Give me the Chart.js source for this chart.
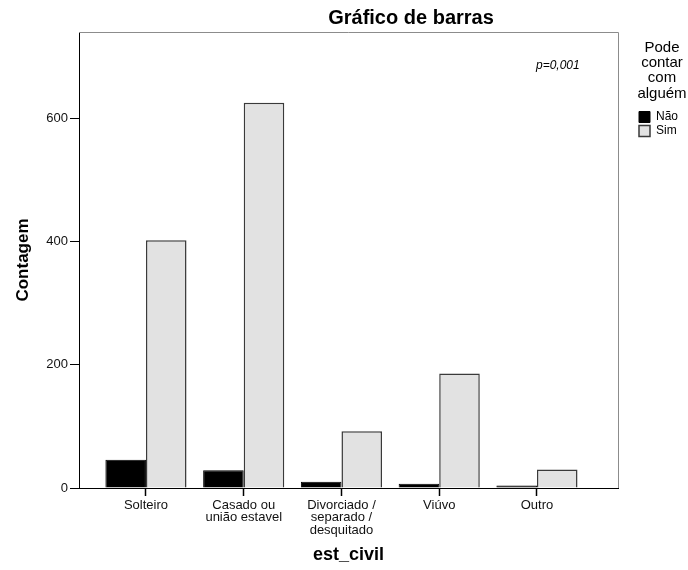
<!DOCTYPE html>
<html>
<head>
<meta charset="utf-8">
<script src="https://cdn.jsdelivr.net/npm/chart.js@4.4.1/dist/chart.umd.min.js"></script>
<style>
  body { margin: 0; background: #fff; }
</style>
</head>
<body>
<canvas id="barChart" width="688" height="570"></canvas>
<script>
// dados
const categorias = ["Solteiro", ["Casado ou", "união estavel"], ["Divorciado /", "separado /", "desquitado"], "Viúvo", "Outro"];
const valoresNao = [46, 29, 10, 7, 4];
const valoresSim = [402, 625, 92, 186, 30];
const ticksContagem = [0, 200, 400, 600];

const fonte = "'Liberation Sans', Arial, sans-serif";
Chart.defaults.font.family = fonte;
Chart.defaults.color = "#000";

// título e p-valor
const textosExtras = {
    id: "textosExtras",
    afterDraw(chart) {
        const ctx = chart.ctx;
        ctx.save();
        ctx.fillStyle = "#000";
        ctx.textBaseline = "middle";
        ctx.textAlign = "center";
        ctx.font = "bold 20px " + fonte;
        ctx.fillText("Gráfico de barras", 411, 18);
        ctx.textAlign = "left";
        ctx.font = "italic 12px " + fonte;
        ctx.fillText("p=0,001", 536, 66);
        ctx.restore();
    },
};

// moldura cinza em cima e à direita
const moldura = {
    id: "moldura",
    beforeDatasetsDraw(chart) {
        const { ctx, chartArea } = chart;
        ctx.save();
        ctx.strokeStyle = "#8c8c8c";
        ctx.lineWidth = 1;
        ctx.beginPath();
        ctx.moveTo(chartArea.left, chartArea.top + 0.5);
        ctx.lineTo(chartArea.right + 0.5, chartArea.top + 0.5);
        ctx.lineTo(chartArea.right + 0.5, chartArea.bottom);
        ctx.stroke();
        ctx.restore();
    },
};

// afasta a legenda da área do gráfico
const deslocaLegenda = {
    id: "deslocaLegenda",
    afterLayout(chart) {
        chart.legend.left += 19;
        chart.legend.right += 19;
    },
};

const ctxBarras = document.querySelector("#barChart").getContext("2d");

const objBarChart = new Chart(ctxBarras, {
    type: "bar",
    data: {
        datasets: [
            {
                label: "Não",
                data: valoresNao.map((v, i) => ({ x: i, y: v })),
                backgroundColor: "#000000",
                borderColor: "#000000",
                borderWidth: 1,
            },
            {
                label: "Sim",
                data: valoresSim.map((v, i) => ({ x: i, y: v })),
                backgroundColor: "#e2e2e2",
                borderColor: "#3a3a3a",
                borderWidth: 1.5,
            },
        ],
    },
    options: {
        responsive: false,
        animation: false,
        categoryPercentage: 0.83,
        barPercentage: 1,
        layout: { padding: { top: 32, right: 20, bottom: 0, left: 0 } },
        scales: {
            x: {
                type: "linear",
                offset: false,
                min: -0.685,
                max: 4.829,
                afterBuildTicks: (s) => {
                    s.ticks = categorias.map((c, i) => ({ value: i }));
                },
                afterFit: (s) => { s.height = 82; },
                ticks: {
                    autoSkip: false,
                    maxRotation: 0,
                    padding: 3,
                    color: "#111",
                    font: { size: 13, lineHeight: 0.96 },
                    callback: (v) => categorias[v],
                },
                grid: { offset: false, drawOnChartArea: false, drawTicks: true, tickLength: 8, tickWidth: 1.5, tickColor: "#000", color: "#000" },
                border: { color: "#000", width: 1 },
                title: {
                    display: true,
                    text: "est_civil",
                    font: { size: 18, weight: "bold" },
                    padding: { top: 4, bottom: 4 },
                },
            },
            y: {
                min: 0,
                max: 740,
                afterBuildTicks: (s) => {
                    s.ticks = ticksContagem.map((v) => ({ value: v }));
                },
                afterFit: (s) => { s.width = 79; },
                ticks: { padding: 2, color: "#111", font: { size: 13 } },
                grid: { drawOnChartArea: false, drawTicks: true, tickLength: 9, color: "#000" },
                border: { color: "#000", width: 1 },
                title: {
                    display: true,
                    text: "Contagem",
                    font: { size: 17, weight: "bold" },
                    padding: { top: 13, bottom: 4 },
                },
            },
        },
        plugins: {
            legend: {
                position: "right",
                align: "start",
                maxWidth: 50,
                title: {
                    display: true,
                    text: ["Pode", "contar", "com", "alguém"],
                    position: "center",
                    color: "#000",
                    font: { size: 15, lineHeight: 1.02 },
                    padding: { top: 8, bottom: 53.7 },
                },
                labels: {
                    boxWidth: 11,
                    boxHeight: 11,
                    padding: 2,
                    color: "#000",
                    font: { size: 12 },
                },
            },
            tooltip: { enabled: false },
        },
    },
    plugins: [textosExtras, moldura, deslocaLegenda],
});
</script>
</body>
</html>
